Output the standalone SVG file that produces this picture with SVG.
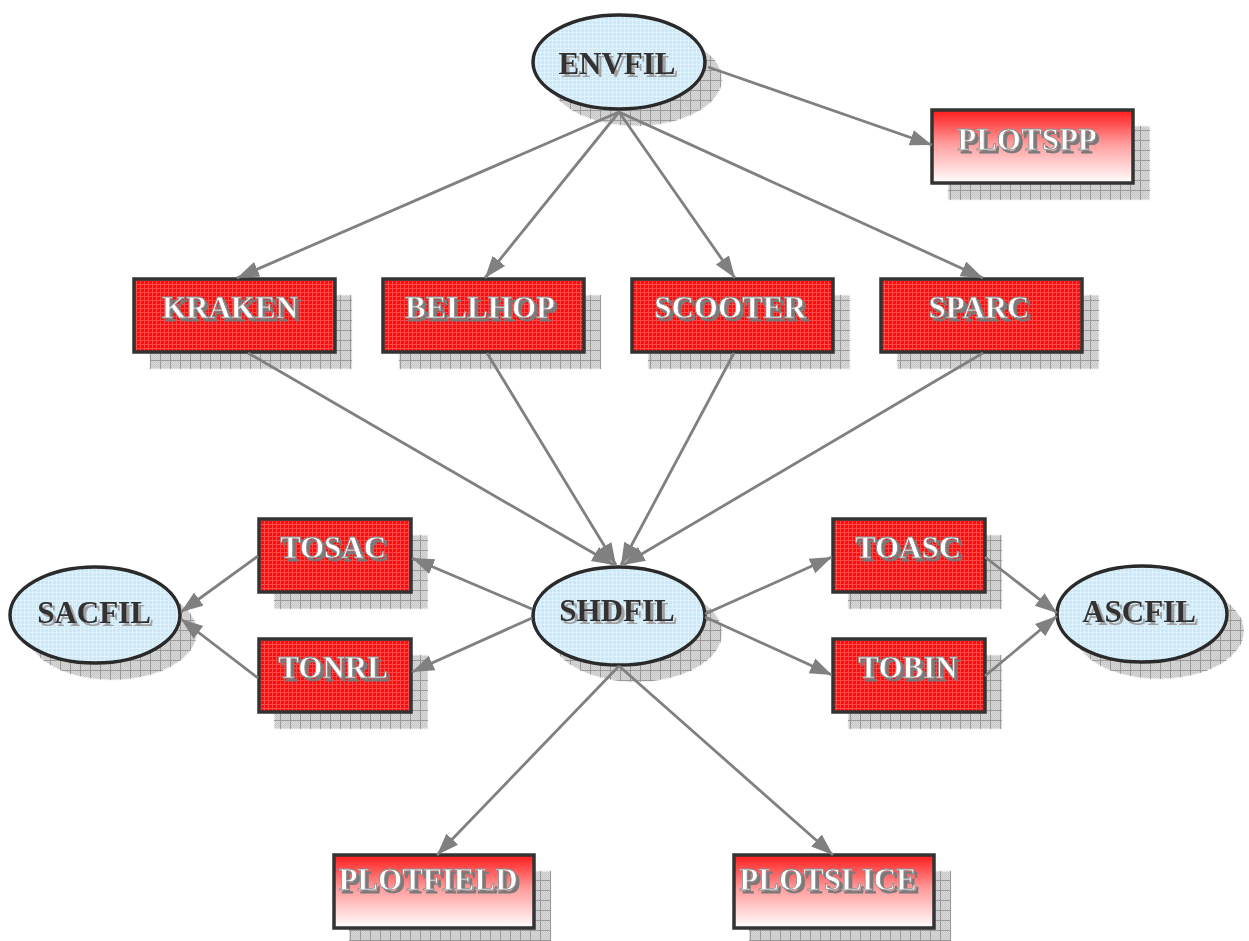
<svg xmlns="http://www.w3.org/2000/svg" width="1249" height="941" viewBox="0 0 1249 941">
<defs>
<pattern id="fineGrey" width="2" height="2" patternUnits="userSpaceOnUse">
<rect width="2" height="2" fill="#d8d8d8"/><rect width="1" height="1" fill="#c4c4c4"/><rect x="1" y="1" width="1" height="1" fill="#cacaca"/>
</pattern>
<pattern id="grid" width="10" height="10" patternUnits="userSpaceOnUse">
<path d="M0,0.5 H10 M0.5,0 V10" stroke="#9a9a9a" stroke-width="1" fill="none"/>
</pattern>
<pattern id="redTex" width="4" height="4" patternUnits="userSpaceOnUse">
<rect width="4" height="4" fill="#ff0d0d"/><path d="M0,0.5 H4 M0.5,0 V4" stroke="#ff4a4a" stroke-width="1"/>
</pattern>
<pattern id="blueTex" width="4" height="4" patternUnits="userSpaceOnUse">
<rect width="4" height="4" fill="#cae8f8"/><path d="M0,0.5 H4 M0.5,0 V4" stroke="#e0f2fc" stroke-width="1"/>
</pattern>
<linearGradient id="plotGrad" x1="0" y1="0" x2="0" y2="1">
<stop offset="0" stop-color="#ff1a1a"/><stop offset="0.45" stop-color="#ff9a9a"/><stop offset="1" stop-color="#ffffff"/>
</linearGradient>
<filter id="darkShadow" x="-10%" y="-20%" width="130%" height="160%">
<feOffset in="SourceAlpha" dx="3" dy="3" result="o"/>
<feFlood flood-color="#a0a0a0"/>
<feComposite in2="o" operator="in" result="s"/>
<feMerge><feMergeNode in="s"/><feMergeNode in="SourceGraphic"/></feMerge>
</filter>
<filter id="whiteShadow" x="-10%" y="-20%" width="130%" height="160%">
<feOffset in="SourceAlpha" dx="3" dy="3" result="o"/>
<feFlood flood-color="#7a7a7a"/>
<feComposite in2="o" operator="in" result="s"/>
<feMerge><feMergeNode in="s"/><feMergeNode in="SourceGraphic"/></feMerge>
</filter>
<marker id="arr" markerUnits="userSpaceOnUse" markerWidth="24" markerHeight="18" refX="22" refY="8" orient="auto">
<path d="M0,0 L22,8 L0,16 z" fill="#808080"/>
</marker>
<style>
.sh{fill:url(#fineGrey);stroke:#f4f4f4;stroke-width:1}
.shg{fill:url(#grid);stroke:none}
.red{fill:url(#redTex);stroke:#333;stroke-width:3.5}
.plot{fill:url(#plotGrad);stroke:#333;stroke-width:3.5}
.ell{fill:url(#blueTex);stroke:#2a2a2a;stroke-width:3.5}
.e{stroke:#808080;stroke-width:2.8;fill:none;marker-end:url(#arr)}
text{font-family:"Liberation Serif","Times New Roman",serif;font-weight:bold;font-size:31px;text-anchor:middle}
.dt{fill:#333;filter:url(#darkShadow)}
.wt{fill:#ffffff;stroke:#8a8a8a;stroke-width:0.8;filter:url(#whiteShadow)}
</style>
</defs>
<rect width="1249" height="941" fill="#ffffff"/>

<g id="ENVFIL">
<ellipse class="sh" cx="636" cy="79" rx="86" ry="47"/><ellipse class="shg" cx="636" cy="79" rx="86" ry="47"/>
<ellipse class="ell" cx="619" cy="62" rx="86" ry="47"/>
<text class="dt" x="617" y="74">ENVFIL</text>
</g>

<g id="PLOTSPP">
<rect class="sh" x="948" y="126" width="202" height="74"/><rect class="shg" x="948" y="126" width="202" height="74"/>
<rect class="plot" x="932" y="110" width="201" height="73"/>
<text class="wt" x="1027" y="150">PLOTSPP</text>
</g>

<g id="KRAKEN">
<rect class="sh" x="150" y="295" width="202" height="74"/><rect class="shg" x="150" y="295" width="202" height="74"/>
<rect class="red" x="134" y="279" width="201" height="73"/>
<text class="wt" x="230" y="318">KRAKEN</text>
</g>

<g id="BELLHOP">
<rect class="sh" x="399" y="295" width="202" height="74"/><rect class="shg" x="399" y="295" width="202" height="74"/>
<rect class="red" x="383" y="279" width="201" height="73"/>
<text class="wt" x="480" y="318">BELLHOP</text>
</g>

<g id="SCOOTER">
<rect class="sh" x="648" y="295" width="202" height="74"/><rect class="shg" x="648" y="295" width="202" height="74"/>
<rect class="red" x="632" y="279" width="201" height="73"/>
<text class="wt" x="730" y="318">SCOOTER</text>
</g>

<g id="SPARC">
<rect class="sh" x="897" y="295" width="202" height="74"/><rect class="shg" x="897" y="295" width="202" height="74"/>
<rect class="red" x="881" y="279" width="201" height="73"/>
<text class="wt" x="979" y="318">SPARC</text>
</g>

<g id="TOSAC">
<rect class="sh" x="274" y="535" width="154" height="74"/><rect class="shg" x="274" y="535" width="154" height="74"/>
<rect class="red" x="259" y="519" width="152" height="73"/>
<text class="wt" x="333" y="558">TOSAC</text>
</g>

<g id="TONRL">
<rect class="sh" x="274" y="655" width="154" height="74"/><rect class="shg" x="274" y="655" width="154" height="74"/>
<rect class="red" x="259" y="639" width="152" height="73"/>
<text class="wt" x="333" y="678">TONRL</text>
</g>

<g id="SACFIL">
<ellipse class="sh" cx="112" cy="632" rx="85" ry="48"/><ellipse class="shg" cx="112" cy="632" rx="85" ry="48"/>
<ellipse class="ell" cx="95" cy="615" rx="85" ry="48"/>
<text class="dt" x="94" y="623">SACFIL</text>
</g>

<g id="SHDFIL">
<ellipse class="sh" cx="636" cy="633" rx="86" ry="49"/><ellipse class="shg" cx="636" cy="633" rx="86" ry="49"/>
<ellipse class="ell" cx="619" cy="616" rx="86" ry="49"/>
<text class="dt" x="617" y="621">SHDFIL</text>
</g>

<g id="TOASC">
<rect class="sh" x="848" y="535" width="154" height="74"/><rect class="shg" x="848" y="535" width="154" height="74"/>
<rect class="red" x="833" y="519" width="152" height="73"/>
<text class="wt" x="908" y="558">TOASC</text>
</g>

<g id="TOBIN">
<rect class="sh" x="848" y="655" width="154" height="74"/><rect class="shg" x="848" y="655" width="154" height="74"/>
<rect class="red" x="833" y="639" width="152" height="73"/>
<text class="wt" x="908" y="678">TOBIN</text>
</g>

<g id="ASCFIL">
<ellipse class="sh" cx="1159" cy="631" rx="85" ry="48"/><ellipse class="shg" cx="1159" cy="631" rx="85" ry="48"/>
<ellipse class="ell" cx="1142" cy="614" rx="85" ry="48"/>
<text class="dt" x="1139" y="622">ASCFIL</text>
</g>

<g id="PLOTFIELD">
<rect class="sh" x="349" y="871" width="202" height="74"/><rect class="shg" x="349" y="871" width="202" height="74"/>
<rect class="plot" x="334" y="855" width="200" height="73"/>
<text class="wt" x="428" y="890">PLOTFIELD</text>
</g>

<g id="PLOTSLICE">
<rect class="sh" x="749" y="871" width="202" height="74"/><rect class="shg" x="749" y="871" width="202" height="74"/>
<rect class="plot" x="734" y="855" width="200" height="73"/>
<text class="wt" x="828" y="890">PLOTSLICE</text>
</g>

<g id="connectors">
<line class="e" x1="708" y1="67" x2="932" y2="145"/>
<line class="e" x1="619" y1="112" x2="237" y2="278"/>
<line class="e" x1="619" y1="112" x2="485" y2="278"/>
<line class="e" x1="619" y1="112" x2="735" y2="278"/>
<line class="e" x1="619" y1="112" x2="983" y2="278"/>
<line class="e" x1="248" y1="353" x2="614" y2="565"/>
<line class="e" x1="487" y1="353" x2="616" y2="565"/>
<line class="e" x1="734" y1="353" x2="621" y2="565"/>
<line class="e" x1="983" y1="353" x2="623" y2="565"/>
<line class="e" x1="532" y1="609" x2="412" y2="558"/>
<line class="e" x1="532" y1="618" x2="412" y2="672"/>
<line class="e" x1="258" y1="556" x2="181" y2="612"/>
<line class="e" x1="258" y1="678" x2="181" y2="619"/>
<line class="e" x1="705" y1="614" x2="832" y2="557"/>
<line class="e" x1="705" y1="617" x2="832" y2="675"/>
<line class="e" x1="985" y1="557" x2="1057" y2="613"/>
<line class="e" x1="985" y1="676" x2="1057" y2="616"/>
<line class="e" x1="619" y1="666" x2="437" y2="855"/>
<line class="e" x1="619" y1="666" x2="833" y2="855"/>
</g>
</svg>
